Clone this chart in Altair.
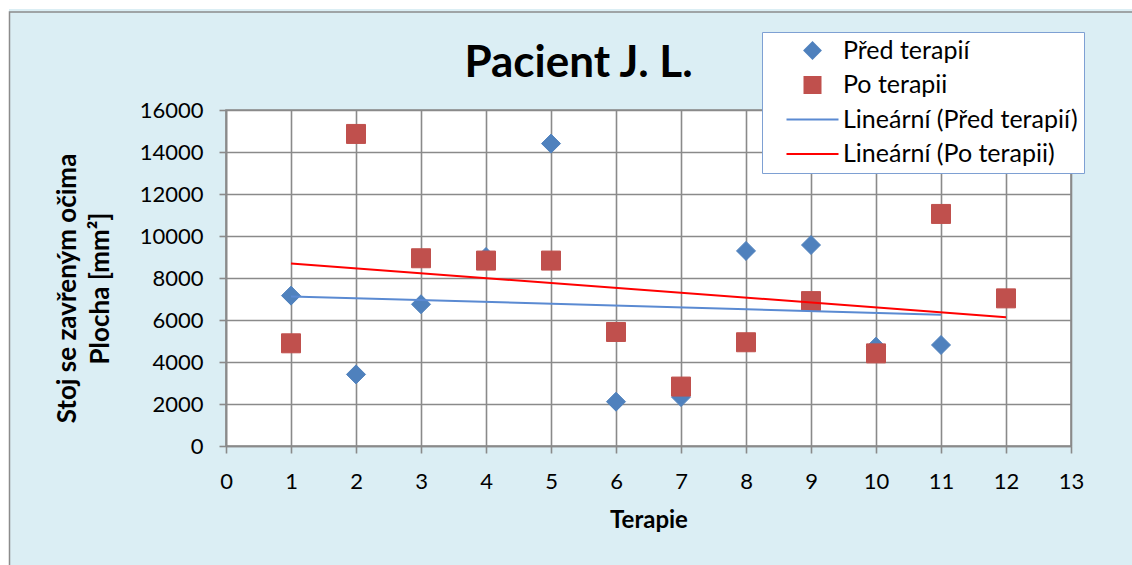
import altair as alt
import pandas as pd

# Balance measurements: sway area for each therapy session, eyes closed
terapie_pred = [1, 2, 3, 4, 5, 6, 7, 8, 9, 10, 11]
plocha_pred = [7160, 3410, 6750, 9000, 14400, 2110, 2330, 9290, 9570, 4730, 4810]

terapie_po = [1, 2, 3, 4, 5, 6, 7, 8, 9, 10, 11, 12]
plocha_po = [4890, 14860, 8940, 8830, 8830, 5430, 2830, 4940, 6900, 4410, 11050, 7030]

series_names = ["Před terapií", "Po terapii", "Lineární (Před terapií)", "Lineární (Po terapii)"]
fill_colors = ["#4F81BD", "#C0504D", "#5A8AD2", "#FF0000"]
stroke_colors = ["#4F81BD", "#C0504D", "#5A8AD2", "#FF0000"]
# trend entries use a short horizontal path as their legend symbol
legend_shapes = ["diamond", "square", "M-3.25,0H3.25", "M-3.25,0H3.25"]

x_ticks = list(range(0, 14))
y_ticks = list(range(0, 16001, 2000))

df = pd.concat([
    pd.DataFrame({"terapie": terapie_pred, "plocha": plocha_pred, "series": series_names[0]}),
    pd.DataFrame({"terapie": terapie_po, "plocha": plocha_po, "series": series_names[1]}),
], ignore_index=True)

W, H = 845, 336
PAD_L, PAD_T = 226, 110
CANVAS_W, CANVAS_H = 1132, 565

FONT = "Lato"
GRID = "#8a8a8a"

x_scale = alt.Scale(domain=[0, 13], nice=False, zero=False)
y_scale = alt.Scale(domain=[0, 16000], nice=False)

x_axis = alt.Axis(
    values=x_ticks, title="Terapie", grid=True, gridColor=GRID, gridWidth=1.6,
    domainColor=GRID, domainWidth=1.6, tickColor=GRID, tickWidth=1.6, tickSize=7,
    labelFont=FONT, labelFontSize=22, labelColor="black", labelPadding=18,
    labelFlush=False, labelOverlap=False,
    titleFont=FONT, titleFontSize=24, titleFontWeight="bold", titleColor="black",
    titleY=74, titleBaseline="middle",
)
y_axis = alt.Axis(
    values=y_ticks, format="d", title=["Stoj se zavřeným očima", "Plocha [mm²]"],
    grid=True, gridColor=GRID, gridWidth=1.6,
    domainColor=GRID, domainWidth=1.6, tickColor=GRID, tickWidth=1.6, tickSize=7,
    labelFont=FONT, labelFontSize=22, labelColor="black", labelPadding=16,
    labelOverlap=False,
    titleFont=FONT, titleFontSize=26, titleFontWeight="bold", titleColor="black",
    titleX=-159, titleY=178, titleAngle=270, titleBaseline="middle",
    titleAlign="center", titleLineHeight=33,
)

legend = alt.Legend(
    title=None, orient="none", legendX=536, legendY=-78,
    fillColor="white", strokeColor="#7EA0D3", padding=6, cornerRadius=0,
    symbolOffset=32, labelOffset=18, rowPadding=8.5,
    symbolSize=256, symbolStrokeWidth=2,
    labelFont=FONT, labelFontSize=25, labelColor="black", labelLimit=400,
)

fill_scale = alt.Scale(domain=series_names, range=fill_colors)
stroke_scale = alt.Scale(domain=series_names, range=stroke_colors)
shape_scale = alt.Scale(domain=series_names, range=legend_shapes)

# outer chart frame: white margin strip and grey border line
frame_white = alt.Chart(alt.Data(values=[{}])).mark_rect(
    fill="transparent", stroke="white", strokeWidth=18
).encode(
    x=alt.value(-PAD_L), y=alt.value(-PAD_T),
    x2=alt.value(CANVAS_W - PAD_L + 40), y2=alt.value(CANVAS_H - PAD_T + 40),
)
frame_border = alt.Chart(alt.Data(values=[{}])).mark_rect(
    fill="transparent", stroke="#8c8c8c", strokeWidth=1.5
).encode(
    x=alt.value(9.5 - PAD_L), y=alt.value(12 - PAD_T),
    x2=alt.value(CANVAS_W - PAD_L + 40), y2=alt.value(CANVAS_H - PAD_T + 40),
)

points = alt.Chart(df).mark_point(filled=True, size=361, strokeWidth=1, opacity=1).encode(
    x=alt.X("terapie:Q", scale=x_scale, axis=x_axis),
    y=alt.Y("plocha:Q", scale=y_scale, axis=y_axis),
    fill=alt.Fill("series:N", scale=fill_scale, legend=legend),
    stroke=alt.Stroke("series:N", scale=stroke_scale, legend=legend),
    shape=alt.Shape("series:N", scale=shape_scale, legend=legend),
)

trends = alt.Chart(df).transform_regression(
    "terapie", "plocha", groupby=["series"]
).transform_calculate(
    series="'Lineární (' + datum.series + ')'"
).mark_line(strokeWidth=2).encode(
    x=alt.X("terapie:Q", scale=x_scale, axis=x_axis),
    y=alt.Y("plocha:Q", scale=y_scale, axis=y_axis),
    stroke=alt.Stroke("series:N", scale=stroke_scale, legend=legend),
)

chart = alt.layer(frame_white, frame_border, points, trends).properties(
    width=W, height=H,
    title=alt.TitleParams(
        "Pacient J. L.", font=FONT, fontSize=44, fontWeight="bold", color="black",
        anchor="middle", frame="group", dx=-70, dy=130, offset=0, baseline="alphabetic",
    ),
    padding={"left": PAD_L, "top": PAD_T, "right": CANVAS_W - PAD_L - W, "bottom": CANVAS_H - PAD_T - H},
    autosize=alt.AutoSizeParams(type="none"),
).configure(
    background="#DBEEF4",
).configure_view(
    fill="white", stroke=GRID, strokeWidth=1.6,
)

chart.save("out.html", embed_options={"renderer": "svg", "actions": False})
